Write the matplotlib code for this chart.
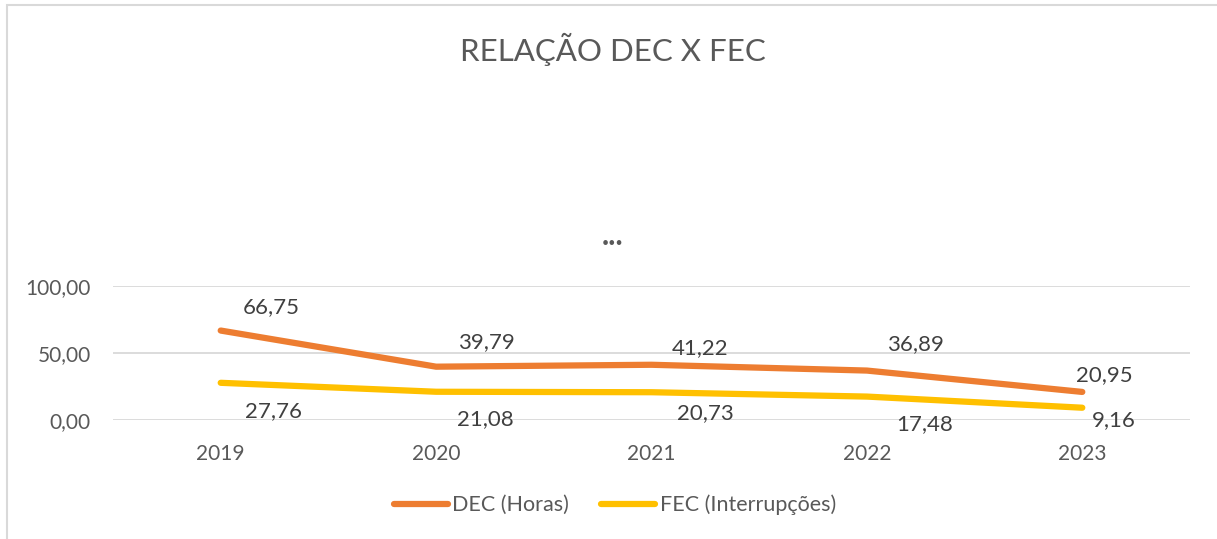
import matplotlib.pyplot as plt
from matplotlib.patches import Rectangle

anos = ["2019", "2020", "2021", "2022", "2023"]
dec = [66.75, 39.79, 41.22, 36.89, 20.95]
fec = [27.76, 21.08, 20.73, 17.48, 9.16]
yticks = [0, 50, 100]

# label offsets in pixels (dx, dy)
off_dec = [(51, 23), (50, 25), (49, 17), (49, 26), (22, 17)]
off_fec = [(53, -28), (49, -27), (54, -21), (58, -28), (32, -12)]

plt.rcParams['font.family'] = ['Lato', 'DejaVu Sans']
cinza = "#595959"

fig = plt.figure(figsize=(12.17, 5.39), dpi=100)
W, H = 1217, 539
ax = fig.add_axes([113 / W, 1 - 420 / H, (1190 - 113) / W, (420 - 286) / H])

ax.plot(range(5), dec, color="#ED7D31", lw=4.5, solid_capstyle="round", label="DEC (Horas)")
ax.plot(range(5), fec, color="#FFC000", lw=4.5, solid_capstyle="round", label="FEC (Interrupções)")

for i in range(5):
    ax.annotate(f"{dec[i]:.2f}".replace(".", ","), (i, dec[i]), xytext=(off_dec[i][0] * 0.72, off_dec[i][1] * 0.72),
                textcoords="offset points", ha="center", va="center", fontsize=16, color="#404040")
    ax.annotate(f"{fec[i]:.2f}".replace(".", ","), (i, fec[i]), xytext=(off_fec[i][0] * 0.72, off_fec[i][1] * 0.72),
                textcoords="offset points", ha="center", va="center", fontsize=16, color="#404040")

ax.set_xlim(-0.5, 4.5)
ax.set_ylim(0, 100)
ax.set_yticks(yticks)
ax.set_yticklabels([f"{v:.2f}".replace(".", ",") for v in yticks])
ax.set_xticks(range(5))
ax.set_xticklabels(anos)
ax.grid(axis="y", color="#D9D9D9", lw=1.3)
ax.set_axisbelow(True)
for s in ax.spines.values():
    s.set_visible(False)
ax.tick_params(length=0, labelsize=15, colors=cinza)
ax.tick_params(axis="y", pad=16)
ax.tick_params(axis="x", pad=17)
ax.patch.set_alpha(0)

fig.text(613 / W, 1 - 49 / H, "RELAÇÃO DEC X FEC", ha="center", va="center", fontsize=22.5, color=cinza)
fig.text(613 / W, 1 - 236 / H, "...", ha="center", va="center", fontsize=22, color=cinza, fontweight="bold")

fig.patches.append(Rectangle((7 / W, -0.1), 1.2, 1 - 5 / H + 0.1, transform=fig.transFigure,
                             fill=False, edgecolor="#D9D9D9", lw=1.5))

leg = fig.legend(loc="center", bbox_to_anchor=(615 / W, 1 - 505 / H), ncol=2, frameon=False,
                 fontsize=15.5, handlelength=2.5, handletextpad=0.2, columnspacing=1.5)
for t in leg.get_texts():
    t.set_color(cinza)

fig.savefig("out.png", dpi=100)
